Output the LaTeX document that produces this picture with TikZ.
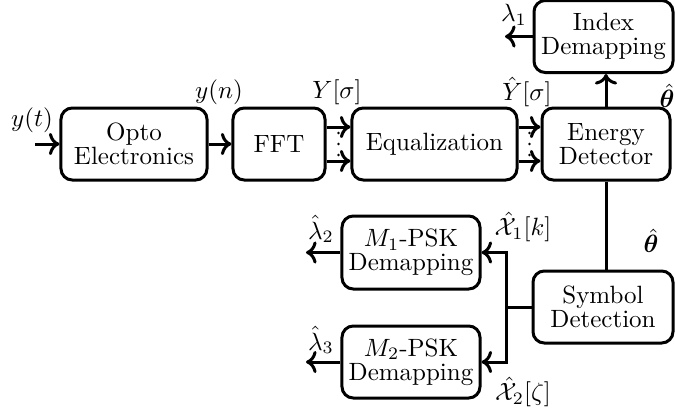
\documentclass[tikz,border=0pt]{standalone}
\usepackage{amsmath,amssymb,bm}
\usetikzlibrary{arrows.meta,calc}
\begin{document}
\begin{tikzpicture}[x=0.4pt,y=-0.4pt,
  blk/.style={draw, line width=1.2pt, rounded corners=4.5pt, minimum height=28.8pt,
              align=center, inner sep=0pt, font=\fontsize{10}{9.6}\selectfont},
  link/.style={line width=1.2pt},
  arr/.style={link, ->},
  lbl/.style={inner sep=0pt}]
\useasboundingbox (0,0) rectangle (675,408);

% processing blocks
\node[blk, minimum width=58.4pt] (opto) at (134,144) {Opto\\Electronics};
\node[blk, minimum width=36.8pt] (fft)  at (279,144) {FFT};
\node[blk, minimum width=66pt]   (eq)   at (434.5,144) {Equalization};
\node[blk, minimum width=51.2pt] (ed)   at (606,144) {Energy\\Detector};
\node[blk, minimum width=55.6pt] (idx)  at (603.5,36.5) {Index\\Demapping};
\node[blk, minimum width=56pt]   (sym)  at (603,307) {Symbol\\Detection};
\node[blk, minimum width=55.2pt, minimum height=29.2pt] (m1) at (411,252.5) {$M_1$-PSK\\Demapping};
\node[blk, minimum width=55.2pt] (m2)   at (411,362) {$M_2$-PSK\\Demapping};

% loose ends
\coordinate (in)  at (35,144);
\coordinate (o1)  at (505,36.5);
\coordinate (o2)  at (306,252.5);
\coordinate (o3)  at (306,362);
\coordinate (jn)  at (506,307);

% main chain
\draw[arr] (in) -- (opto.west);
\draw[arr] (opto.east) -- (fft.west);
\foreach \s in {6.8pt,-6.8pt}{
  \draw[arr] ([yshift=\s]fft.east) -- ([yshift=\s]eq.west);
  \draw[arr] ([yshift=\s]eq.east) -- ([yshift=\s]ed.west);
}
\foreach \a/\b in {fft/eq, eq/ed}{
  \path ($(\a.east)!0.5!(\b.west)$) coordinate (mid);
  \foreach \d in {-11,0,11}
    \fill ($(mid)+(0,\d)$) circle[radius=0.55pt];
}
\draw[arr] (ed.north) -- (ed.north |- idx.south);
\draw[arr] (idx.west) -- (o1);
\draw[link] (ed.south) -- (ed.south |- sym.north);

% symbol branch
\draw[link] (sym.west |- jn) -- (jn);
\draw[arr] (jn) |- (m1.east);
\draw[arr] (jn) |- (m2.east);
\draw[arr] (m1.west) -- (o2);
\draw[arr] (m2.west) -- (o3);

% signal labels
\node[lbl] at (32,120) {$y(t)$};
\node[lbl] at (219,92) {$y(n)$};
\node[lbl] at (337,92) {$Y[\sigma]$};
\node[lbl] at (527,92) {$\hat{Y}[\sigma]$};
\node[lbl] at (667,96) {$\hat{\boldsymbol{\theta}}$};
\node[lbl] at (514,15) {$\lambda_1$};
\node[lbl] at (651,241) {$\hat{\boldsymbol{\theta}}$};
\node[lbl] at (523,227) {$\hat{\mathcal{X}}_1[k]$};
\node[lbl] at (523,392) {$\hat{\mathcal{X}}_2[\zeta]$};
\node[lbl] at (321,229) {$\hat{\lambda}_2$};
\node[lbl] at (321,340) {$\hat{\lambda}_3$};
\end{tikzpicture}
\end{document}
